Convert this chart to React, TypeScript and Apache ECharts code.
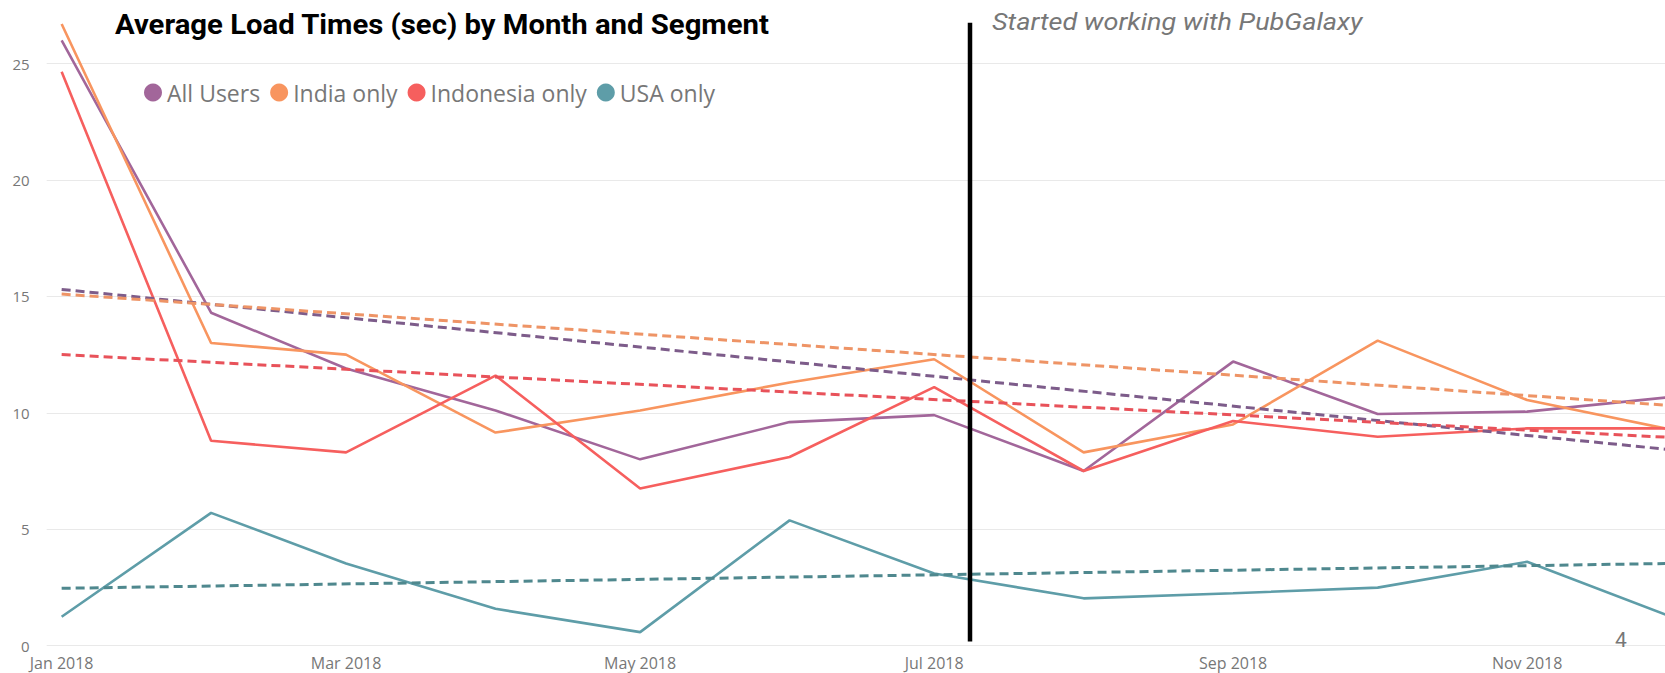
import React, { useEffect, useRef } from "react";
import * as echarts from "echarts";

// ---- Data ----
const months = [
  "2018-01-01", "2018-02-01", "2018-03-01", "2018-04-01", "2018-05-01", "2018-06-01",
  "2018-07-01", "2018-08-01", "2018-09-01", "2018-10-01", "2018-11-01", "2018-12-01",
];
const allUsers = [26.0, 14.3, 11.9, 10.1, 8.0, 9.6, 9.9, 7.5, 12.2, 9.95, 10.05, 10.68];
const indiaOnly = [26.7, 13.0, 12.5, 9.15, 10.1, 11.3, 12.3, 8.3, 9.5, 13.1, 10.55, 9.27];
const indonesiaOnly = [24.65, 8.8, 8.3, 11.6, 6.75, 8.1, 11.1, 7.5, 9.65, 8.97, 9.33, 9.33];
const usaOnly = [1.24, 5.7, 3.53, 1.58, 0.58, 5.38, 3.1, 2.03, 2.25, 2.49, 3.6, 1.23];

const trendDates = ["2018-01-01", "2018-12-01"];
const trendAllUsers = [15.3, 8.41];
const trendIndia = [15.1, 10.31];
const trendIndonesia = [12.5, 8.94];
const trendUsa = [2.46, 3.53];

const tickDates = ["2018-01-01", "2018-03-01", "2018-05-01", "2018-07-01", "2018-09-01", "2018-11-01"];
const tickLabels = ["Jan 2018", "Mar 2018", "May 2018", "Jul 2018", "Sep 2018", "Nov 2018"];

const segmentNames = ["All Users", "India only", "Indonesia only", "USA only"];
const colors = ["#A2669A", "#F8955F", "#F65F5E", "#5E9DA8"];
const trendColors = ["#7D5C8A", "#EE9466", "#E8525A", "#4F888E"];

const titleText = "Average Load Times (sec) by Month and Segment";
const annotationText = "Started working with PubGalaxy";
const pageNumber = "4";

const dayOf = (iso: string) => (Date.parse(iso) - Date.parse("2018-01-01")) / 86400000;

export default function App() {
  const ref = useRef<HTMLDivElement>(null);

  useEffect(() => {
    if (!ref.current) return;
    const chart = echarts.init(ref.current, null, { renderer: "svg" });

    const segs = [allUsers, indiaOnly, indonesiaOnly, usaOnly];
    const trends = [trendAllUsers, trendIndia, trendIndonesia, trendUsa];
    const tickDays = tickDates.map(dayOf);

    const solidSeries = segs.map((vals, i) => ({
      name: segmentNames[i],
      type: "line",
      data: months.map((m, j) => [dayOf(m), vals[j]]),
      showSymbol: false,
      clip: false,
      lineStyle: { color: colors[i], width: 2.6 },
      itemStyle: { color: colors[i] },
      z: 2,
    }));
    const trendSeries = trends.map((vals, i) => ({
      name: segmentNames[i] + " trend",
      type: "line",
      data: trendDates.map((d, j) => [dayOf(d), vals[j]]),
      showSymbol: false,
      clip: false,
      lineStyle: { color: trendColors[i], width: 3, type: [9, 5] },
      itemStyle: { color: trendColors[i] },
      z: 3,
    }));

    chart.setOption({
      animation: false,
      backgroundColor: "#ffffff",
      grid: { left: 46.7, right: 0, top: 63.6, bottom: 27.4, containLabel: false },
      legend: {
        left: 144,
        top: 81,
        padding: 0,
        icon: "circle",
        itemWidth: 18,
        itemHeight: 18,
        itemGap: 10,
        textStyle: { fontSize: 23, color: "#777777", fontFamily: "Open Sans" },
        data: segmentNames,
      },
      xAxis: {
        type: "value",
        min: -3.1,
        max: 332.6,
        axisLine: { show: false },
        axisTick: { show: false },
        splitLine: { show: false },
        axisLabel: {
          customValues: tickDays,
          formatter: (v: number) => {
            const k = tickDays.indexOf(v);
            return k >= 0 ? tickLabels[k] : "";
          },
          fontSize: 16,
          color: "#777777",
          fontFamily: "Open Sans",
          margin: 9,
        },
      },
      yAxis: {
        type: "value",
        min: 0,
        max: 25,
        interval: 5,
        axisLine: { show: false },
        axisTick: { show: false },
        splitLine: { show: true, lineStyle: { color: "#E9E9E9", width: 1 } },
        axisLabel: {
          fontSize: 15,
          color: "#777777",
          fontFamily: "Open Sans",
          margin: 17,
        },
      },
      series: [...solidSeries, ...trendSeries],
      graphic: [
        {
          type: "text",
          x: 115,
          y: 24.5,
          scaleX: 1.085,
          style: {
            text: titleText,
            fontSize: 27,
            fontWeight: "bold",
            fontFamily: "Roboto",
            fill: "#000000",
            textAlign: "left",
            textVerticalAlign: "middle",
          },
          z: 10,
        },
        {
          type: "text",
          x: 992,
          y: 22,
          scaleX: 1.127,
          style: {
            text: annotationText,
            fontSize: 24,
            fontStyle: "italic",
            fontFamily: "Roboto",
            fill: "#777777",
            textAlign: "left",
            textVerticalAlign: "middle",
          },
          z: 10,
        },
        {
          type: "line",
          shape: { x1: 970, y1: 22.7, x2: 970, y2: 641.4 },
          style: { stroke: "#000000", lineWidth: 4.5 },
          z: 10,
        },
        {
          type: "text",
          x: 1621,
          y: 640,
          style: {
            text: pageNumber,
            fontSize: 21,
            fontFamily: "Roboto",
            fill: "#777777",
            textAlign: "center",
            textVerticalAlign: "middle",
          },
          z: 10,
        },
      ],
    });

    return () => chart.dispose();
  }, []);

  return (
    <div
      ref={ref}
      style={{ position: "absolute", left: 0, top: 0, width: 1665, height: 673, background: "#fff" }}
    />
  );
}
